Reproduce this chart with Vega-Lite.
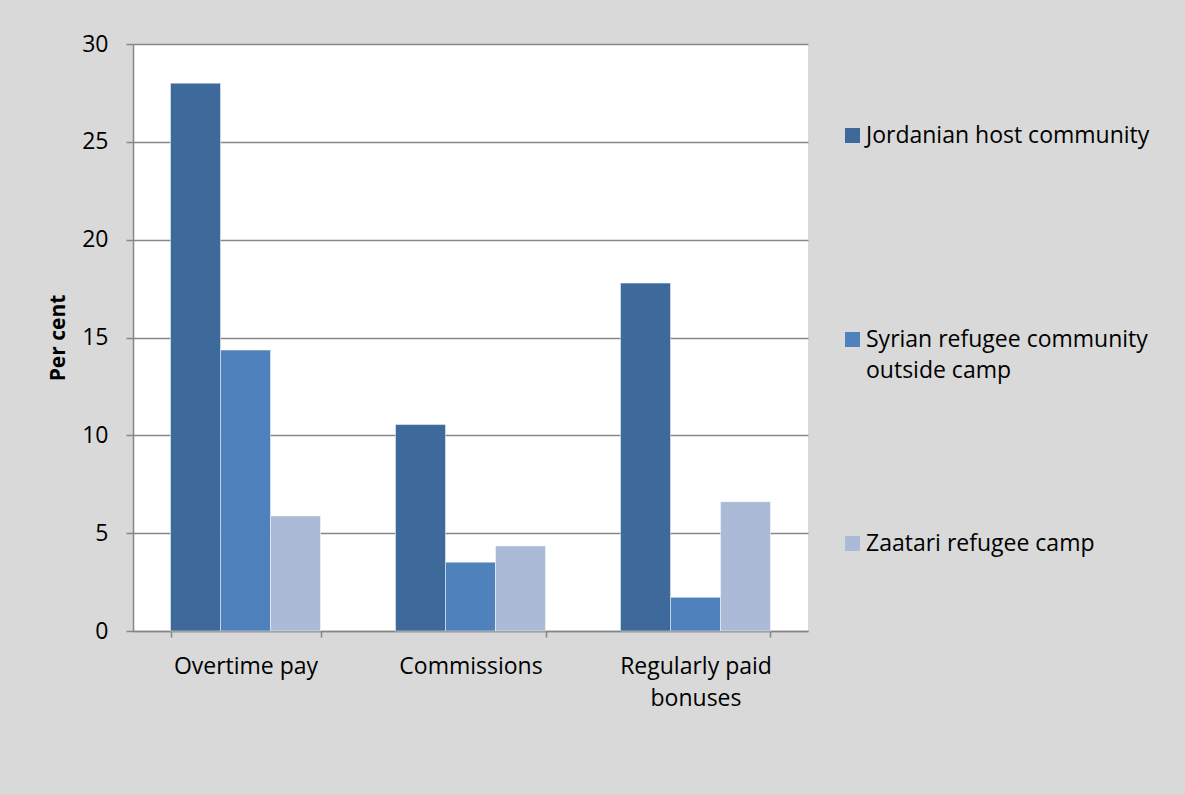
{
  "$schema": "https://vega.github.io/schema/vega-lite/v6.json",
  "autosize": "none",
  "width": 675,
  "height": 587,
  "padding": {"left": 133, "top": 44, "right": 377, "bottom": 164},
  "background": "#d9d9d9",
  "view": {"fill": "#ffffff", "stroke": null},
  "config": {
    "font": "Open Sans",
    "axis": {"labelColor": "#000000", "titleColor": "#000000", "domainColor": "#868686", "tickColor": "#868686"},
    "legend": {"labelColor": "#000000"},
    "style": {"guide-label": {"lineHeight": 31}}
  },
  "data": {
    "values": [
      {"category": "Overtime pay", "group": "Jordanian host community", "value": 28.0},
      {"category": "Overtime pay", "group": "Syrian refugee community outside camp", "value": 14.36},
      {"category": "Overtime pay", "group": "Zaatari refugee camp", "value": 5.88},
      {"category": "Commissions", "group": "Jordanian host community", "value": 10.55},
      {"category": "Commissions", "group": "Syrian refugee community outside camp", "value": 3.52},
      {"category": "Commissions", "group": "Zaatari refugee camp", "value": 4.35},
      {"category": "Regularly paid bonuses", "group": "Jordanian host community", "value": 17.78},
      {"category": "Regularly paid bonuses", "group": "Syrian refugee community outside camp", "value": 1.72},
      {"category": "Regularly paid bonuses", "group": "Zaatari refugee camp", "value": 6.61}
    ]
  },
  "mark": {"type": "bar", "stroke": "#ffffff", "strokeWidth": 0.8, "strokeOpacity": 0.6},
  "encoding": {
    "x": {
      "field": "category",
      "type": "nominal",
      "sort": ["Overtime pay", "Commissions", "Regularly paid bonuses"],
      "scale": {"paddingInner": 0.3333, "paddingOuter": 0.16667},
      "axis": {
        "title": null,
        "labelAngle": 0,
        "labelFontSize": 23,
        "labelPadding": 18,
        "labelBaseline": "top",
        "labelLineHeight": 32,
        "labelExpr": "datum.label == 'Regularly paid bonuses' ? ['Regularly paid', 'bonuses'] : datum.label",
        "tickBand": "extent",
        "tickSize": 6,
        "tickWidth": 1.5,
        "domainWidth": 1.5,
        "labelLimit": 300
      }
    },
    "xOffset": {
      "field": "group",
      "type": "nominal",
      "sort": ["Jordanian host community", "Syrian refugee community outside camp", "Zaatari refugee camp"],
      "scale": {"paddingInner": 0, "paddingOuter": 0}
    },
    "y": {
      "field": "value",
      "type": "quantitative",
      "scale": {"domain": [0, 30], "nice": false},
      "axis": {
        "title": "Per cent",
        "titleFontSize": 21,
        "titleFontWeight": "bold",
        "titleX": -75,
        "titleY": 293.5,
        "titleAngle": -90,
        "titleAlign": "center",
        "titleBaseline": "middle",
        "values": [0, 5, 10, 15, 20, 25, 30],
        "labelFontSize": 23,
        "labelPadding": 18,
        "tickSize": 7,
        "tickWidth": 1.5,
        "domainWidth": 1.5,
        "grid": true,
        "gridColor": "#878787",
        "gridWidth": 1.4
      }
    },
    "color": {
      "field": "group",
      "type": "nominal",
      "scale": {
        "domain": ["Jordanian host community", "Syrian refugee community outside camp", "Zaatari refugee camp"],
        "range": ["#3e6a9b", "#4f81bd", "#aabad7"]
      },
      "legend": {
        "title": null,
        "orient": "none",
        "legendX": 708,
        "legendY": 80,
        "symbolType": "square",
        "symbolSize": 225,
        "symbolStrokeWidth": 0,
        "labelFontSize": 23,
        "labelOffset": 2,
        "labelLimit": 400,
        "labelBaseline": "middle",
        "rowPadding": 149,
        "labelExpr": "datum.label == 'Syrian refugee community outside camp' ? ['Syrian refugee community', 'outside camp'] : [datum.label, '']"
      }
    }
  }
}
